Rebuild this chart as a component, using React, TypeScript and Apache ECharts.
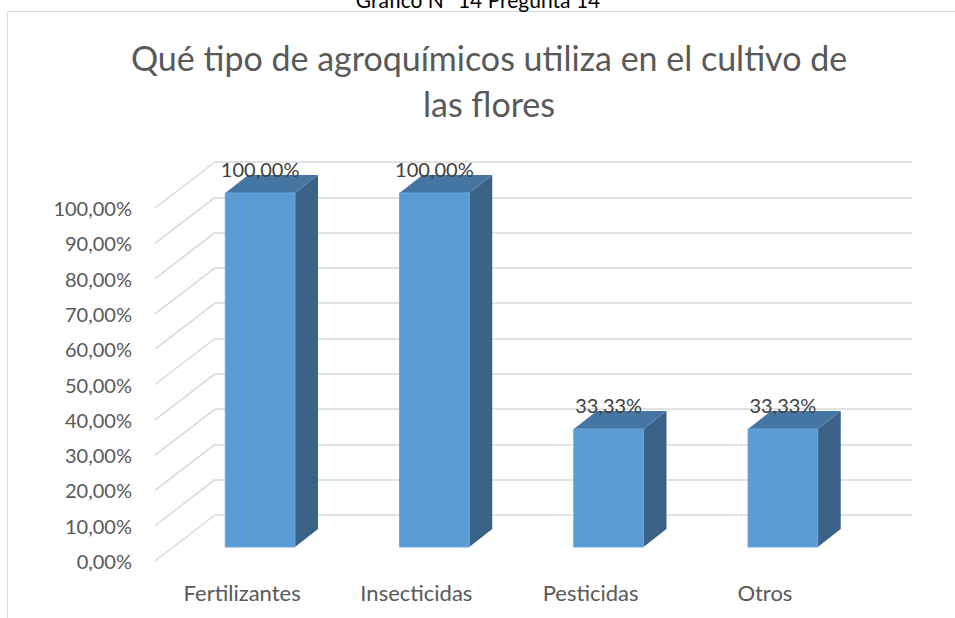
import React, { useEffect, useRef } from "react";
import * as echarts from "echarts";

const categories = ["Fertilizantes", "Insecticidas", "Pesticidas", "Otros"];
const values = [100, 100, 33.33, 33.33];
const yTicks = [0, 10, 20, 30, 40, 50, 60, 70, 80, 90, 100];
const titleLines = ["Qué tipo de agroquímicos utiliza en el cultivo de", "las flores"];
const captionText = "Gráfico N° 14 Pregunta 14";

const fmt = (v: number) => v.toFixed(2).replace(".", ",") + "%";

export default function App() {
  const ref = useRef<HTMLDivElement>(null);
  useEffect(() => {
    document.body.style.margin = "0";
    const chart = echarts.init(ref.current!, null, { renderer: "svg" });
    const font = "Lato, 'Noto Sans', sans-serif";
    const DX = 23;
    const DY = -18;
    const option: any = {
      animation: false,
      backgroundColor: "#ffffff",
      graphic: [
        {
          type: "rect",
          z: -10,
          shape: { x: 7.5, y: 11.5, width: 1000, height: 700 },
          style: { fill: "none", stroke: "#d9d9d9", lineWidth: 1 },
        },
        {
          type: "text",
          x: 478,
          y: -1,
          style: {
            text: captionText,
            fill: "#000000",
            font: "21px Lato, sans-serif",
            textAlign: "center",
            textVerticalAlign: "middle",
          },
        },
        {
          type: "text",
          x: 489,
          y: 57,
          style: {
            text: titleLines[0],
            fill: "#595959",
            font: "34px Lato, sans-serif",
            textAlign: "center",
            textVerticalAlign: "middle",
          },
        },
        {
          type: "text",
          x: 489,
          y: 103,
          style: {
            text: titleLines[1],
            fill: "#595959",
            font: "34px Lato, sans-serif",
            textAlign: "center",
            textVerticalAlign: "middle",
          },
        },
      ],
      grid: [
        { left: 215, top: 162, width: 697, height: 353 },
        { left: 155, top: 208, width: 697, height: 353 },
        { left: 173, top: 193, width: 697, height: 354 },
      ],
      xAxis: [
        { type: "category", data: categories, gridIndex: 0, show: false },
        {
          type: "category",
          data: categories,
          gridIndex: 1,
          axisLine: { show: false },
          axisTick: { show: false },
          axisLabel: { color: "#595959", fontFamily: font, fontSize: 22, margin: 20 },
        },
        { type: "category", data: categories, gridIndex: 2, show: false },
      ],
      yAxis: [
        {
          type: "value",
          gridIndex: 0,
          min: 0,
          max: 100,
          interval: 10,
          axisLabel: { show: false },
          axisLine: { show: false },
          axisTick: { show: false },
          splitLine: { show: true, lineStyle: { color: "#d9d9d9", width: 1.5 } },
        },
        {
          type: "value",
          gridIndex: 1,
          min: 0,
          max: 100,
          interval: 10,
          axisLine: { show: false },
          axisTick: { show: false },
          splitLine: { show: false },
          axisLabel: {
            color: "#595959",
            fontFamily: font,
            fontSize: 20,
            margin: 23,
            formatter: (v: number) => fmt(v),
          },
        },
        {
          type: "value",
          gridIndex: 2,
          min: 0,
          max: 100,
          interval: 10,
          show: false,
          splitLine: { show: false },
        },
      ],
      series: [
        {
          type: "custom",
          xAxisIndex: 0,
          yAxisIndex: 0,
          data: yTicks.map((t) => [0, t]),
          z: 1,
          renderItem: (params: any, api: any) => {
            const p = api.coord([api.value(0), api.value(1)]);
            const band = api.size([1, 0])[0];
            const left = p[0] - band / 2;
            return {
              type: "line",
              shape: { x1: left, y1: p[1], x2: left - 60, y2: p[1] + 46 },
              style: { stroke: "#d9d9d9", lineWidth: 1.5 },
            };
          },
        },
        {
          type: "custom",
          xAxisIndex: 2,
          yAxisIndex: 2,
          z: 5,
          data: values.map((v, i) => [i, v]),
          renderItem: (params: any, api: any) => {
            const top = api.coord([api.value(0), api.value(1)]);
            const base = api.coord([api.value(0), 0]);
            const band = api.size([1, 0])[0];
            const w = band * 0.4;
            const x0 = top[0] - w / 2;
            const yt = top[1];
            const yb = base[1];
            return {
              type: "group",
              children: [
                {
                  type: "polygon",
                  shape: {
                    points: [
                      [x0 + w, yt],
                      [x0 + w + DX, yt + DY],
                      [x0 + w + DX, yb + DY],
                      [x0 + w, yb],
                    ],
                  },
                  style: { fill: "#3a6186" },
                },
                {
                  type: "polygon",
                  shape: {
                    points: [
                      [x0, yt],
                      [x0 + w, yt],
                      [x0 + w + DX, yt + DY],
                      [x0 + DX, yt + DY],
                    ],
                  },
                  style: { fill: "#4575a3" },
                },
                {
                  type: "rect",
                  shape: { x: x0, y: yt, width: w, height: yb - yt },
                  style: { fill: "#5b9bd5", stroke: "#6aa6dc", lineWidth: 1 },
                },
                {
                  type: "text",
                  x: top[0],
                  y: yt - 24,
                  style: {
                    text: fmt(api.value(1)),
                    fill: "#404040",
                    font: "20px Lato, sans-serif",
                    textAlign: "center",
                    textVerticalAlign: "middle",
                  },
                },
              ],
            };
          },
        },
      ],
    };
    chart.setOption(option);
    return () => chart.dispose();
  }, []);
  return <div ref={ref} style={{ width: 955, height: 618 }} />;
}
